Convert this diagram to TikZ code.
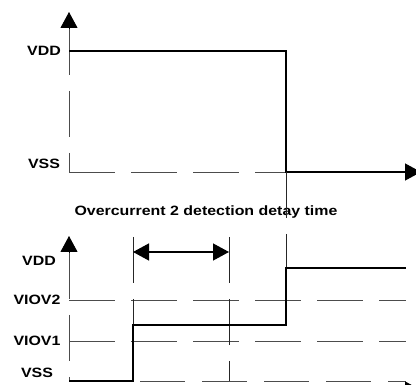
\documentclass[tikz,border=0pt]{standalone}
\usepackage{graphicx}
\usepackage{fontspec}
\setmainfont{Liberation Sans}
\usetikzlibrary{arrows.meta}
\newcommand{\wlab}[1]{\scalebox{1.18}[1]{\bfseries #1}}

\begin{document}
\begin{tikzpicture}
[
x=1pt, y=-1pt,
>={Triangle[length=16pt,width=17pt]},
axis/.style = {draw=black!70, line width=0.9pt},
dashline/.style = {axis, dash pattern=on 46pt off 16pt},
tline/.style = {draw=black!85, line width=0.9pt, dash pattern=on 46pt off 16pt},
sig/.style = {draw=black, line width=1.3pt},
tip/.style = {draw=black, line width=0.9pt, -{Triangle[length=16pt,width=17pt]}},
lab/.style = {inner sep=0pt, font=\fontsize{13.5}{15}\selectfont},
]
\useasboundingbox (0,0) rectangle (416,385);

% upper diagram
\coordinate (O1) at (69,172);
\coordinate (Y1) at (69,12);
\coordinate (Y1b) at (69,29);
\coordinate (A1) at (69,51);
\coordinate (F1) at (286,51);
\coordinate (F2) at (286,172);
\coordinate (X1) at (421,172);

\draw[dashline] (Y1b) -- (O1);
\draw[tip] (Y1b) -- (Y1);
\draw[dashline] (O1) -- (F2);
\draw[sig, ->] (A1) -- (F1) -- (F2) -- (X1);

\node[lab] (vdd1) at (44,51) {\wlab{VDD}};
\node[lab] (vss1) at (44,164) {\wlab{VSS}};

\node[lab] (title) at (206,212) {\wlab{Overcurrent 2 detection detay time}};

% lower diagram
\coordinate (O2) at (69,381);
\coordinate (Y2) at (69,236);
\coordinate (Y2b) at (69,253);
\coordinate (H2) at (400,390);
\coordinate (X2) at (421,390);
\coordinate (S1) at (133,381);
\coordinate (S2) at (133,325);
\coordinate (S3) at (286,325);
\coordinate (S4) at (286,268);
\coordinate (S5) at (406,268);

\coordinate (L2a) at (69,300);
\coordinate (L2b) at (406,300);
\coordinate (L1a) at (69,341);
\coordinate (L1b) at (406,341);
\coordinate (E2) at (406,381);

\coordinate (T1a) at (133,237);
\coordinate (T2a) at (229,237);
\coordinate (T2b) at (229,381);
\coordinate (D1) at (133,252);
\coordinate (D2) at (229,252);

\draw[dashline] (Y2b) -- (O2);
\draw[tip] (Y2b) -- (Y2);
\draw[dashline] (L2a) -- (L2b);
\draw[dashline] (L1a) -- (L1b);
\draw[axis, dash pattern=on 45pt off 17pt, dash phase=55pt] (S1) -- (E2);
\draw[tip] (H2) -- (X2);

\draw[tline] (T1a) -- (S2);
\draw[tline] (T2a) -- (T2b);
\draw[tline] (F2) -- (S4);

\draw[sig, <->] (D1) -- (D2);
\draw[sig] (O2) -- (S1) -- (S2) -- (S3) -- (S4) -- (S5);

\node[lab] (vdd2) at (39,261) {\wlab{VDD}};
\node[lab] (viov2) at (37,300) {\wlab{VIOV2}};
\node[lab] (viov1) at (37,341) {\wlab{VIOV1}};
\node[lab] (vss2) at (37,373) {\wlab{VSS}};
\end{tikzpicture}
\end{document}
